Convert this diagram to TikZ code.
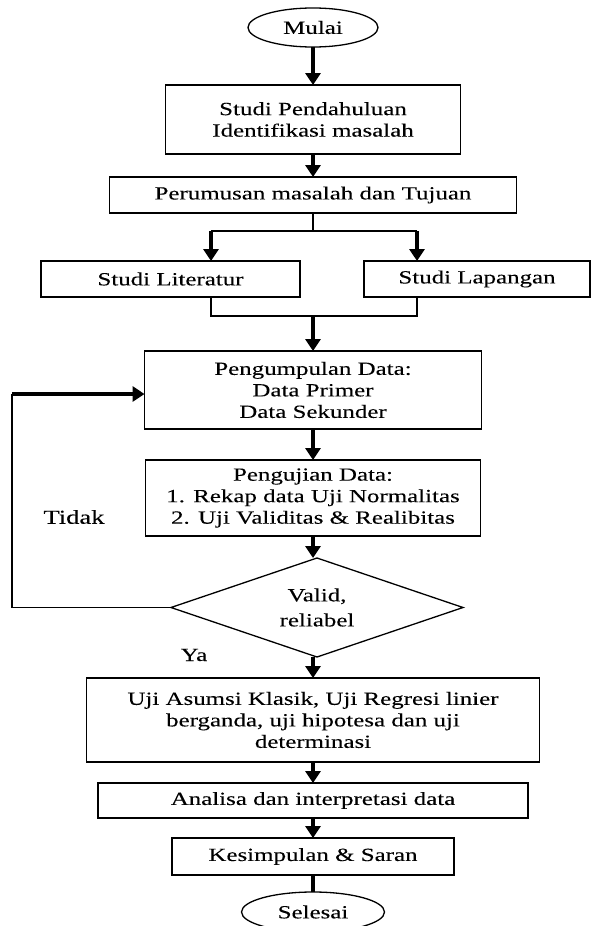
\documentclass[tikz,border=0pt]{standalone}
\usepackage{fontspec}
\setmainfont{Liberation Serif}[FakeStretch=1.34, FakeBold=0.1]
\usepackage{tikz}
\usetikzlibrary{positioning,shapes.geometric,arrows.meta}

\tikzset{
    kotak/.style={draw, line width=1.3pt, inner sep=2pt, outer sep=0pt, align=center},
    oval/.style={draw, ellipse, line width=1.3pt, inner sep=0pt, outer sep=0pt},
    keputusan/.style={draw, diamond, aspect=2.9, line width=1.3pt, inner sep=0pt, outer sep=0pt, align=center},
    panah/.style={line width=3.4pt, -{Triangle[width=15pt,length=12pt]}},
    garis/.style={line width=1.5pt}
}

\begin{document}
\begin{tikzpicture}[x=1pt, y=-1pt, font=\fontsize{18.6}{21.5}\selectfont]
        \useasboundingbox (0,0) rectangle (592,926);

        \node[oval, minimum width=130pt, minimum height=39pt] (mulai) at (313,27.5) {Mulai};
        \node[kotak, below=38pt of mulai, minimum width=295pt, minimum height=69pt] (studi) {Studi Pendahuluan\\Identifikasi masalah};
        \node[kotak, below=23pt of studi, minimum width=407pt, minimum height=36pt] (rumusan) {Perumusan masalah dan Tujuan};

        \node[kotak, minimum width=259pt, minimum height=36pt] (literatur) at (170.5,279) {Studi Literatur};
        \node[kotak, minimum width=226pt, minimum height=36pt] (lapangan) at (477,279) {Studi Lapangan};

        \node[kotak, below=138pt of rumusan, minimum width=337pt, minimum height=78pt] (kumpul) {Pengumpulan Data:\\Data Primer\\Data Sekunder};
        \node[kotak, below=31pt of kumpul, minimum width=335pt, minimum height=76pt] (pengujian) {Pengujian Data:\\1. Rekap data Uji Normalitas\\2. Uji Validitas \& Realibitas};
        \node[keputusan, below=22pt of pengujian, xshift=4pt, minimum width=292pt, minimum height=99pt, font=\fontsize{18.6}{25}\selectfont] (valid) {Valid,\\reliabel};
        \node[kotak, below=21pt of valid, xshift=-4pt, minimum width=453pt, minimum height=84pt] (asumsi) {Uji Asumsi Klasik, Uji Regresi linier\\berganda, uji hipotesa dan uji\\determinasi};
        \node[kotak, below=21pt of asumsi, minimum width=430pt, minimum height=35pt] (analisa) {Analisa dan interpretasi data};
        \node[kotak, below=20pt of analisa, minimum width=282pt, minimum height=37pt] (simpulan) {Kesimpulan \& Saran};
        \node[oval, below=17pt of simpulan, minimum width=143pt, minimum height=40pt] (selesai) {Selesai};

        \node[font=\fontsize{19.8}{22}\selectfont] (tidak) at (74,517) {Tidak};
        \node (ya) at (194,655) {Ya};

        % titik bantu percabangan
        \coordinate (cabang) at (313,231);
        \coordinate (cabangKiri) at (211,231);
        \coordinate (cabangKanan) at (417,231);
        \coordinate (gabung) at (313,316);
        \coordinate (gabungKiri) at (211,316);
        \coordinate (gabungKanan) at (417,316);
        \coordinate (balikBawah) at (12,607.5);
        \coordinate (balikAtas) at (12,394);

        \draw[panah] (mulai) -- (studi);
        \draw[panah] (studi) -- (rumusan);
        \draw[garis] (rumusan.south) -- (cabang);
        \draw[garis] (cabangKiri) -- (cabangKanan);
        \draw[panah] (cabangKiri) -- (cabangKiri |- literatur.north);
        \draw[panah] (cabangKanan) -- (cabangKanan |- lapangan.north);
        \draw[garis] (gabungKiri |- literatur.south) -- (gabungKiri) -- (gabungKanan) -- (gabungKanan |- lapangan.south);
        \draw[panah] (gabung) -- (kumpul);
        \draw[panah] (kumpul) -- (pengujian);
        \draw[panah] (pengujian.south) -- (pengujian.south |- valid.north);
        \draw[panah] (valid.south -| asumsi.north) -- (asumsi);
        \draw[panah] (asumsi) -- (analisa);
        \draw[panah] (analisa) -- (simpulan);
        \draw[line width=3.4pt] (simpulan) -- (selesai);
        \draw[garis] (valid.west) -- (balikBawah) -- (balikAtas);
        \draw[panah] (balikAtas) -- (kumpul.west |- balikAtas);
    \end{tikzpicture}
\end{document}
